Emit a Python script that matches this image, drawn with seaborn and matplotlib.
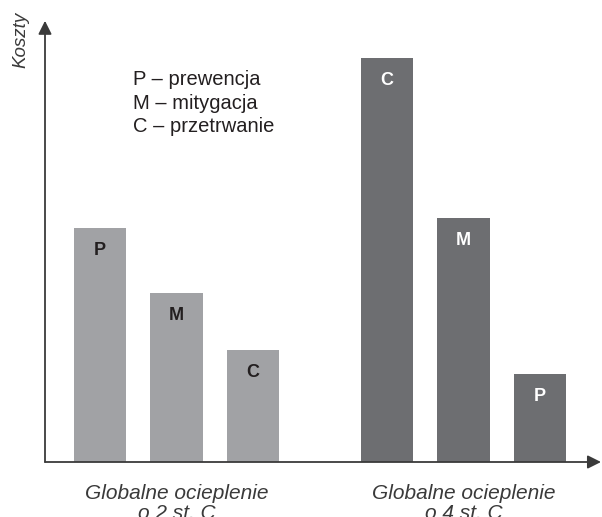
import matplotlib
matplotlib.use("Agg")
import matplotlib.pyplot as plt
import seaborn as sns
import pandas as pd

# Data (arbitrary cost units)
groups = ["Globalne ocieplenie\no 2 st. C", "Globalne ocieplenie\no 4 st. C"]
letters_2 = ["P", "M", "C"]
letters_4 = ["C", "M", "P"]
costs_2 = [234, 169, 112]
costs_4 = [404, 244, 88]
legend_lines = ["P – prewencja", "M – mitygacja", "C – przetrwanie"]

group_colors = ["#a1a2a5", "#6d6e71"]
label_colors = ["#231f20", "#ffffff"]
axis_color = "#3a3a3a"

df = pd.DataFrame({
    "grupa": [groups[0]] * 3 + [groups[1]] * 3,
    "slot": [0, 1, 2] * 2,
    "koszt": costs_2 + costs_4,
    "litera": letters_2 + letters_4,
})

sns.set_theme(style="white")
plt.rcParams['font.family'] = ['Liberation Sans', 'DejaVu Sans']

fig = plt.figure(figsize=(6.02, 5.17), dpi=100)
ax = fig.add_axes([45 / 602, 1 - 462 / 517, 556 / 602, 439 / 517])

sns.barplot(data=df, x="grupa", y="koszt", hue="slot", order=groups,
            width=0.8, gap=0.31, saturation=1, legend=False, ax=ax)

for i, cont in enumerate(ax.containers):
    for j, bar in enumerate(cont):
        bar.set_facecolor(group_colors[j])
        bar.set_edgecolor("none")
    texts = ax.bar_label(cont, labels=[letters_2[i], letters_4[i]],
                         padding=-22, fontsize=13, fontweight="bold")
    for j, t in enumerate(texts):
        t.set_color(label_colors[j])

ax.set_xlim(-0.458, 1.479)
ax.set_ylim(0, 439)
ax.set_yticks([])
ax.set_xlabel("")
ax.set_ylabel("Koszty", fontstyle="italic", fontsize=13.5, color=axis_color)
ax.yaxis.set_label_coords(-0.028, 0.961)
ax.tick_params(axis="x", length=0, pad=16, labelsize=15, labelcolor=axis_color)
for t in ax.get_xticklabels():
    t.set_fontstyle("italic")
    t.set_linespacing(1.02)

for s in ax.spines.values():
    s.set_visible(False)

arrow = dict(arrowstyle="-|>,head_length=0.5,head_width=0.25", color=axis_color,
             lw=1.3, mutation_scale=16, shrinkA=0, shrinkB=0)
ax.annotate("", xy=(0, 1.005), xytext=(0, 0), xycoords="axes fraction", arrowprops=arrow)
ax.annotate("", xy=(1, 0), xytext=(0, 0), xycoords="axes fraction", arrowprops=arrow)

fig.text(133 / 602, 1 - 70 / 517, "\n".join(legend_lines), va="top", ha="left",
         fontsize=14.5, linespacing=1.31, color="#231f20")

fig.savefig("out.png", dpi=100)
